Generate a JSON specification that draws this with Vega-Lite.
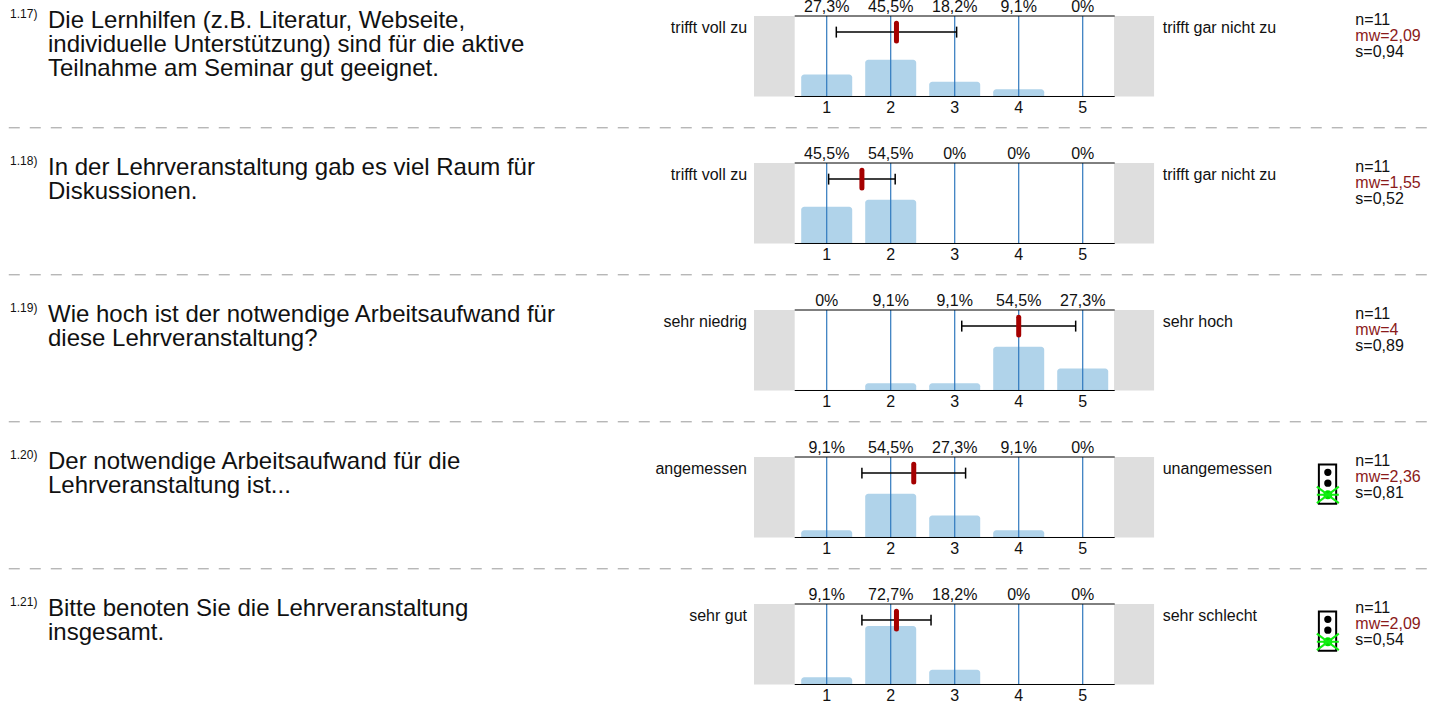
{
"$schema":"https://vega.github.io/schema/vega-lite/v6.json",
"padding":{"left":0,"right":0,"top":-19,"bottom":-14},
"background":"white",
"config":{"view":{"stroke":null},"font":"Liberation Sans","text":{"font":"Liberation Sans"}},
"data":{"values":[
{"q":"1.17","question":"Die Lernhilfen (z.B. Literatur, Webseite,\nindividuelle Unterstützung) sind für die aktive\nTeilnahme am Seminar gut geeignet.","sup":"1.17)","low":"trifft voll zu","high":"trifft gar nicht zu","n":"n=11","mw":"mw=2,09","sd":"s=0,94","mean":2.09,"lo":1.15,"hi":3.03,"light":false},
{"q":"1.18","question":"In der Lehrveranstaltung gab es viel Raum für\nDiskussionen.","sup":"1.18)","low":"trifft voll zu","high":"trifft gar nicht zu","n":"n=11","mw":"mw=1,55","sd":"s=0,52","mean":1.55,"lo":1.03,"hi":2.07,"light":false},
{"q":"1.19","question":"Wie hoch ist der notwendige Arbeitsaufwand für\ndiese Lehrveranstaltung?","sup":"1.19)","low":"sehr niedrig","high":"sehr hoch","n":"n=11","mw":"mw=4","sd":"s=0,89","mean":4,"lo":3.11,"hi":4.89,"light":false},
{"q":"1.20","question":"Der notwendige Arbeitsaufwand für die\nLehrveranstaltung ist...","sup":"1.20)","low":"angemessen","high":"unangemessen","n":"n=11","mw":"mw=2,36","sd":"s=0,81","mean":2.36,"lo":1.55,"hi":3.17,"light":true},
{"q":"1.21","question":"Bitte benoten Sie die Lehrveranstaltung\ninsgesamt.","sup":"1.21)","low":"sehr gut","high":"sehr schlecht","n":"n=11","mw":"mw=2,09","sd":"s=0,54","mean":2.09,"lo":1.55,"hi":2.63,"light":true},
{"q":"1.17","value":1,"pct":27.3,"label":"27,3%"},{"q":"1.17","value":2,"pct":45.5,"label":"45,5%"},{"q":"1.17","value":3,"pct":18.2,"label":"18,2%"},{"q":"1.17","value":4,"pct":9.1,"label":"9,1%"},{"q":"1.17","value":5,"pct":0,"label":"0%"},
{"q":"1.18","value":1,"pct":45.5,"label":"45,5%"},{"q":"1.18","value":2,"pct":54.5,"label":"54,5%"},{"q":"1.18","value":3,"pct":0,"label":"0%"},{"q":"1.18","value":4,"pct":0,"label":"0%"},{"q":"1.18","value":5,"pct":0,"label":"0%"},
{"q":"1.19","value":1,"pct":0,"label":"0%"},{"q":"1.19","value":2,"pct":9.1,"label":"9,1%"},{"q":"1.19","value":3,"pct":9.1,"label":"9,1%"},{"q":"1.19","value":4,"pct":54.5,"label":"54,5%"},{"q":"1.19","value":5,"pct":27.3,"label":"27,3%"},
{"q":"1.20","value":1,"pct":9.1,"label":"9,1%"},{"q":"1.20","value":2,"pct":54.5,"label":"54,5%"},{"q":"1.20","value":3,"pct":27.3,"label":"27,3%"},{"q":"1.20","value":4,"pct":9.1,"label":"9,1%"},{"q":"1.20","value":5,"pct":0,"label":"0%"},
{"q":"1.21","value":1,"pct":9.1,"label":"9,1%"},{"q":"1.21","value":2,"pct":72.7,"label":"72,7%"},{"q":"1.21","value":3,"pct":18.2,"label":"18,2%"},{"q":"1.21","value":4,"pct":0,"label":"0%"},{"q":"1.21","value":5,"pct":0,"label":"0%"}
]},
"spacing":0,
"bounds":"flush",
"facet":{"row":{"field":"q","type":"nominal","header":null}},
"spec":{
"width":1436,"height":146.8,
"layer":[
{"transform":[{"filter":"datum.mean != null"}],"mark":{"type":"rect","color":"#dedede"},"encoding":{"x":{"datum":-0.136,"scale":{"domain":[-11.917,10.52],"nice":false,"zero":false,"padding":0},"axis":null},"x2":{"datum":0.5},"y":{"datum":0,"scale":{"domain":[-38.9,143.5],"nice":false,"zero":false},"axis":null},"y2":{"datum":100}}},
{"transform":[{"filter":"datum.mean != null"}],"mark":{"type":"rect","color":"#dedede"},"encoding":{"x":{"datum":5.49,"scale":{"nice":false}},"x2":{"datum":6.115},"y":{"datum":0,"scale":{"nice":false}},"y2":{"datum":100}}},
{"transform":[{"filter":"datum.pct > 0"}],"mark":{"type":"bar","size":51,"orient":"vertical","color":"#b0d3ea","cornerRadiusEnd":3},"encoding":{"x":{"field":"value","type":"quantitative","scale":{"nice":false,"padding":0}},"y":{"field":"pct","type":"quantitative","stack":null,"scale":{"nice":false}}}},
{"transform":[{"filter":"datum.value != null"}],"mark":{"type":"rule","color":"#2f78bd","strokeWidth":1.2},"encoding":{"x":{"field":"value","type":"quantitative","scale":{"nice":false}},"y":{"datum":0,"scale":{"nice":false}},"y2":{"datum":100}}},
{"transform":[{"filter":"datum.mean != null"}],"mark":{"type":"rule","color":"black","strokeWidth":1},"encoding":{"x":{"datum":0.5,"scale":{"nice":false}},"x2":{"datum":5.5},"y":{"datum":0,"scale":{"nice":false}}}},
{"transform":[{"filter":"datum.mean != null"}],"mark":{"type":"rule","color":"black","strokeWidth":1},"encoding":{"x":{"datum":0.5,"scale":{"nice":false}},"x2":{"datum":5.5},"y":{"datum":100,"scale":{"nice":false}}}},
{"transform":[{"filter":"datum.mean != null"}],"mark":{"type":"rule","color":"black","strokeWidth":1.5},"encoding":{"x":{"field":"lo","type":"quantitative","scale":{"nice":false}},"x2":{"field":"hi"},"y":{"datum":80,"scale":{"nice":false}}}},
{"transform":[{"filter":"datum.mean != null"}],"mark":{"type":"rule","color":"black","strokeWidth":1.5},"encoding":{"x":{"field":"lo","type":"quantitative","scale":{"nice":false}},"y":{"datum":73.2,"scale":{"nice":false}},"y2":{"datum":86.8}}},
{"transform":[{"filter":"datum.mean != null"}],"mark":{"type":"rule","color":"black","strokeWidth":1.5},"encoding":{"x":{"field":"hi","type":"quantitative","scale":{"nice":false}},"y":{"datum":73.2,"scale":{"nice":false}},"y2":{"datum":86.8}}},
{"transform":[{"filter":"datum.mean != null"}],"mark":{"type":"rule","color":"#a50000","strokeWidth":5,"strokeCap":"round"},"encoding":{"x":{"field":"mean","type":"quantitative","scale":{"nice":false}},"y":{"datum":69,"scale":{"nice":false}},"y2":{"datum":91}}},
{"transform":[{"filter":"datum.value != null"}],"mark":{"type":"text","fontSize":16,"baseline":"middle","color":"#111111"},"encoding":{"x":{"field":"value","type":"quantitative","scale":{"nice":false}},"y":{"datum":110.8,"scale":{"nice":false}},"text":{"field":"label"}}},
{"transform":[{"filter":"datum.value != null"}],"mark":{"type":"text","fontSize":16,"baseline":"middle","color":"#111111"},"encoding":{"x":{"field":"value","type":"quantitative","scale":{"nice":false}},"y":{"datum":-13.7,"scale":{"nice":false}},"text":{"field":"value","type":"nominal"}}},
{"transform":[{"filter":"datum.mean != null"}],"mark":{"type":"text","fontSize":24,"baseline":"top","align":"left","lineBreak":"\n","lineHeight":24,"color":"#111111"},"encoding":{"x":{"datum":-11.167,"scale":{"nice":false}},"y":{"datum":108.7,"scale":{"nice":false}},"text":{"field":"question"}}},
{"transform":[{"filter":"datum.mean != null"}],"mark":{"type":"text","fontSize":12,"baseline":"top","align":"left","color":"#111111"},"encoding":{"x":{"datum":-11.76,"scale":{"nice":false}},"y":{"datum":109,"scale":{"nice":false}},"text":{"field":"sup"}}},
{"transform":[{"filter":"datum.mean != null"}],"mark":{"type":"text","fontSize":16,"baseline":"middle","align":"right","color":"#111111"},"encoding":{"x":{"datum":-0.245,"scale":{"nice":false}},"y":{"datum":85,"scale":{"nice":false}},"text":{"field":"low"}}},
{"transform":[{"filter":"datum.mean != null"}],"mark":{"type":"text","fontSize":16,"baseline":"middle","align":"left","color":"#111111"},"encoding":{"x":{"datum":6.25,"scale":{"nice":false}},"y":{"datum":85,"scale":{"nice":false}},"text":{"field":"high"}}},
{"transform":[{"filter":"datum.mean != null"}],"mark":{"type":"text","fontSize":16,"baseline":"middle","align":"left","color":"#111111"},"encoding":{"x":{"datum":9.26,"scale":{"nice":false}},"y":{"datum":95,"scale":{"nice":false}},"text":{"field":"n"}}},
{"transform":[{"filter":"datum.mean != null"}],"mark":{"type":"text","fontSize":16,"baseline":"middle","align":"left","color":"#8b1a1a"},"encoding":{"x":{"datum":9.26,"scale":{"nice":false}},"y":{"datum":75.2,"scale":{"nice":false}},"text":{"field":"mw"}}},
{"transform":[{"filter":"datum.mean != null"}],"mark":{"type":"text","fontSize":16,"baseline":"middle","align":"left","color":"#111111"},"encoding":{"x":{"datum":9.26,"scale":{"nice":false}},"y":{"datum":55.3,"scale":{"nice":false}},"text":{"field":"sd"}}},
{"transform":[{"filter":"datum.light == true"}],"mark":{"type":"rect","fill":"white","stroke":"black","strokeWidth":2},"encoding":{"x":{"datum":8.69,"scale":{"nice":false}},"x2":{"datum":8.96},"y":{"datum":42,"scale":{"nice":false}},"y2":{"datum":90.7}}},
{"transform":[{"filter":"datum.light == true"}],"mark":{"type":"point","filled":true,"shape":"circle","size":53,"color":"black","opacity":1},"encoding":{"x":{"datum":8.83,"scale":{"nice":false}},"y":{"datum":81,"scale":{"nice":false}}}},
{"transform":[{"filter":"datum.light == true"}],"mark":{"type":"point","filled":true,"shape":"circle","size":53,"color":"black","opacity":1},"encoding":{"x":{"datum":8.83,"scale":{"nice":false}},"y":{"datum":67.5,"scale":{"nice":false}}}},
{"transform":[{"filter":"datum.light == true"}],"mark":{"type":"point","filled":true,"shape":"circle","size":80,"color":"#00e000","opacity":1},"encoding":{"x":{"datum":8.83,"scale":{"nice":false}},"y":{"datum":53,"scale":{"nice":false}}}},
{"transform":[{"filter":"datum.light == true"}],"mark":{"type":"point","shape":"M-1,-0.75L1,0.75M-1,0.75L1,-0.75M-1,0L1,0","size":484,"stroke":"#11ee11","strokeWidth":2,"fill":null,"opacity":1},"encoding":{"x":{"datum":8.83,"scale":{"nice":false}},"y":{"datum":53,"scale":{"nice":false}}}},
{"transform":[{"filter":"datum.mean != null && datum.q != '1.21'"}],"mark":{"type":"rule","color":"#999999","strokeWidth":1,"strokeDash":[11,10]},"encoding":{"x":{"datum":-11.78,"scale":{"nice":false}},"x2":{"datum":10.52},"y":{"datum":-38.9,"scale":{"nice":false}}}}
]
}
}
